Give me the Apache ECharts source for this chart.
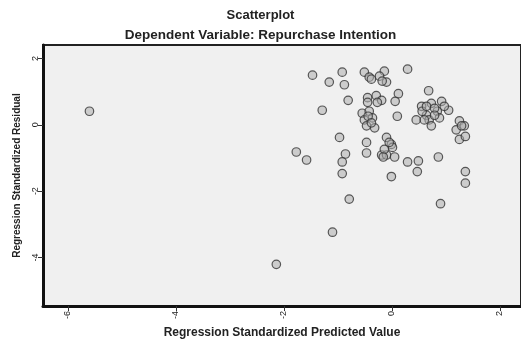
<!DOCTYPE html>
<html>
<head>
<meta charset="utf-8">
<script src="https://cdn.jsdelivr.net/npm/echarts@6/dist/echarts.min.js"></script>
<style>
html,body{margin:0;padding:0;background:#fff;}
#chart{width:521px;height:344px;}
</style>
</head>
<body>
<div id="chart"></div>
<script>
// Regression Standardized Predicted Value (x) and Standardized Residual (y)
var predictedValues = [
 -1.47,-1.16,-0.92,-0.88,-0.51,-0.42,-0.14,-0.23,-0.10,0.29,0.68,
 -0.81,-0.45,-0.29,-0.19,0.12,0.06,-1.29,-0.55,-0.42,-0.36,-0.51,-0.47,-0.32,0.10,
 0.55,0.73,0.92,0.84,0.64,0.45,0.69,0.88,0.73,0.56,1.05,1.25,1.34,1.19,1.25,1.36,
 -0.97,-0.47,-0.10,-0.01,0.01,-1.77,-1.58,-0.86,-0.92,-0.47,-0.19,-0.10,0.05,0.29,0.49,0.86,
 -0.92,-0.01,0.47,1.36,1.36,-0.79,0.90,-1.10,-2.14,-5.60,
 -0.38,-0.18,-0.45,-0.27,-0.44,-0.38,0.64,0.79,0.60,0.79,0.97,-0.05,-0.14,1.29,-0.16
];
var residualValues = [
 1.50,1.29,1.59,1.21,1.59,1.44,1.62,1.47,1.29,1.68,1.03,
 0.74,0.82,0.88,0.74,0.94,0.71,0.44,0.35,0.41,0.21,0.15,-0.03,-0.09,0.26,
 0.56,0.65,0.71,0.41,0.29,0.15,0.15,0.21,-0.03,0.41,0.44,0.12,-0.03,-0.15,-0.44,-0.35,
 -0.38,-0.53,-0.38,-0.59,-0.68,-0.82,-1.06,-0.88,-1.12,-0.85,-0.91,-0.91,-0.97,-1.12,-1.09,-0.97,
 -1.47,-1.56,-1.41,-1.41,-1.76,-2.24,-2.38,-3.24,-4.21,0.41,
 1.38,1.32,0.68,0.68,0.26,0.06,0.56,0.50,0.15,0.29,0.56,-0.53,-0.74,-0.03,-0.97
];
var xTickValues = [-6, -4, -2, 0, 2];
var yTickValues = [-4, -2, 0, 2];
var titleText = 'Scatterplot';
var subtitleText = 'Dependent Variable: Repurchase Intention';
var xAxisName = 'Regression Standardized Predicted Value';
var yAxisName = 'Regression Standardized Residual';

var points = predictedValues.map(function (v, i) { return [v, residualValues[i]]; });

var chart = echarts.init(document.getElementById('chart'), null, {renderer: 'canvas'});
var font = '"Liberation Sans", Arial, sans-serif';
chart.setOption({
  animation: false,
  backgroundColor: '#ffffff',
  title: [
    {text: titleText, left: 'center', top: 9, padding: 0,
     textStyle: {fontFamily: font, fontSize: 13, fontWeight: 'bold', color: '#222'}},
    {text: subtitleText, left: 'center', top: 28, padding: 0,
     textStyle: {fontFamily: font, fontSize: 13.5, fontWeight: 'bold', color: '#222'}}
  ],
  grid: {left: 43, top: 45, right: 0, bottom: 31, show: true,
         backgroundColor: '#f0f0f0', borderColor: '#222', borderWidth: 2},
  xAxis: {
    type: 'value', min: -6.46, max: 2.39,
    name: xAxisName, nameLocation: 'middle', nameGap: 16,
    nameTextStyle: {fontFamily: font, fontSize: 12, fontWeight: 'bold', color: '#222'},
    axisLine: {show: true, onZero: false, lineStyle: {color: '#111', width: 3}},
    axisTick: {show: true, length: 5, lineStyle: {color: '#333', width: 1}, customValues: xTickValues},
    axisLabel: {fontFamily: font, fontSize: 9, color: '#222', margin: 5, rotate: 90, customValues: xTickValues},
    splitLine: {show: false}
  },
  yAxis: {
    type: 'value', min: -5.47, max: 2.41,
    name: yAxisName, nameLocation: 'middle', nameGap: 21, nameRotate: 90,
    nameTextStyle: {fontFamily: font, fontSize: 10, fontWeight: 'bold', color: '#222'},
    axisLine: {show: true, onZero: false, lineStyle: {color: '#111', width: 3}},
    axisTick: {show: true, length: 5, lineStyle: {color: '#333', width: 1}, customValues: yTickValues},
    axisLabel: {fontFamily: font, fontSize: 9, color: '#222', margin: 3, rotate: 90, customValues: yTickValues},
    splitLine: {show: false}
  },
  series: [{
    type: 'scatter',
    data: points,
    symbol: 'circle',
    symbolSize: 8.5,
    itemStyle: {color: 'rgba(170,170,170,0.65)', borderColor: '#333', borderWidth: 1.2}
  }]
});
</script>
</body>
</html>
